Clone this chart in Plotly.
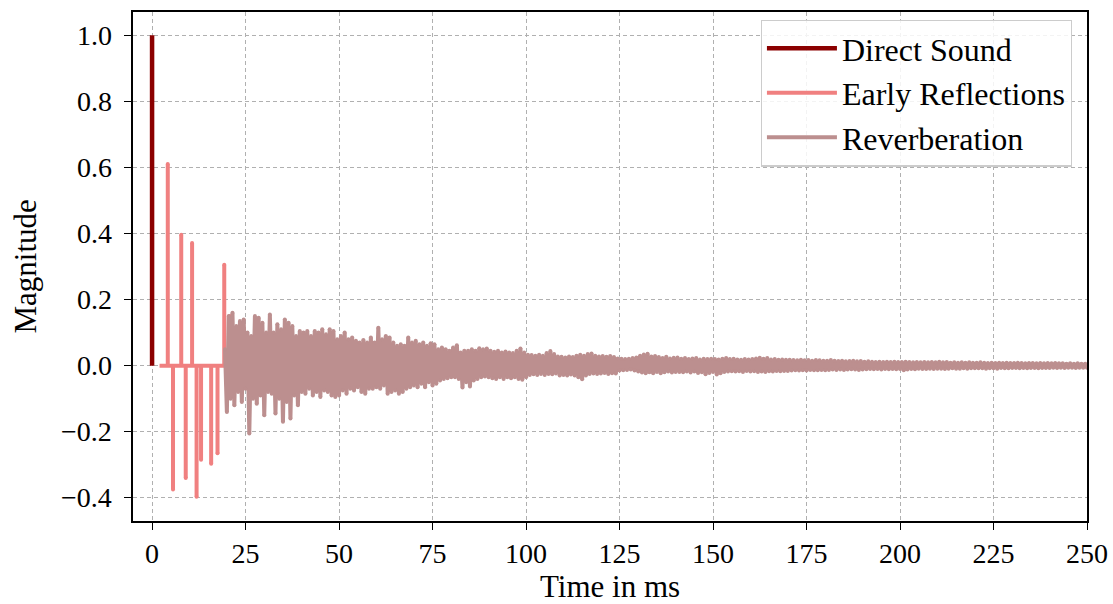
import numpy as np
import plotly.graph_objects as go

# ---------------- data ----------------
direct_time = [0.0]
direct_amp = [1.0]

reflection_start = 2.0      # ms, start of the early-reflection segment
reflection_end = 21.0       # ms, end of the early-reflection segment
reflection_times = [4.2, 5.6, 7.8, 9.0, 10.7, 11.9, 13.1, 15.8, 17.5, 19.3, 20.8]
reflection_amps = [0.61, -0.375, 0.396, -0.34, 0.371, -0.397, -0.285, -0.297, -0.265, 0.305, 0.15]

# reverberation, part A: 19.5 ms .. 130 ms every 0.5 ms
reverb_a_start, reverb_a_step = 19.5, 0.5
reverb_a_values = [
    0.05, -0.14, 0.15, -0.10, 0.16, -0.12, 0.12, -0.08, 0.135, -0.11,
    0.14, -0.07, 0.10, -0.205, 0.09, -0.10, 0.15, -0.115, 0.145, -0.09,
    0.13, -0.15, 0.10, -0.08, 0.155, -0.085, 0.10, -0.145, 0.125, -0.10,
    0.11, -0.17, 0.14, -0.11, 0.13, -0.16, 0.12, -0.09, 0.09, -0.12,
    0.105, -0.08, 0.10, -0.085, 0.105, -0.07, 0.09, -0.09, 0.105, -0.08,
    0.10, -0.095, 0.11, -0.075, 0.095, -0.08, 0.11, -0.09, 0.105, -0.095,
    0.08, -0.09, 0.09, -0.075, 0.10, -0.085, 0.08, -0.07, 0.085, -0.075,
    0.075, -0.065, 0.07, -0.08, 0.078, -0.085, 0.07, -0.07, 0.085, -0.07,
    0.07, -0.065, 0.115, -0.07, 0.08, -0.06, 0.09, -0.085, 0.085, -0.08,
    0.07, -0.075, 0.06, -0.085, 0.065, -0.08, 0.06, -0.07, 0.085, -0.065,
    0.07, -0.06, 0.075, -0.065, 0.065, -0.055, 0.07, -0.065, 0.06, -0.05,
    0.068, -0.06, 0.065, -0.055, 0.05, -0.045, 0.055, -0.04, 0.05, -0.038,
    0.045, -0.035, 0.055, -0.035, 0.062, -0.04, 0.04, -0.066, 0.045, -0.05,
    0.045, -0.063, 0.05, -0.045, 0.045, -0.04, 0.053, -0.035, 0.05, -0.033,
    0.052, -0.035, 0.045, -0.038, 0.042, -0.04, 0.045, -0.035, 0.04, -0.04,
    0.043, -0.035, 0.04, -0.038, 0.038, -0.035, 0.045, -0.04, 0.052, -0.043,
    0.04, -0.035, 0.033, -0.028, 0.032, -0.026, 0.03, -0.028, 0.033, -0.025,
    0.03, -0.028, 0.038, -0.025, 0.044, -0.026, 0.035, -0.024, 0.028, -0.03,
    0.027, -0.028, 0.025, -0.03, 0.028, -0.027, 0.026, -0.03, 0.03, -0.035,
    0.033, -0.041, 0.03, -0.03, 0.035, -0.025, 0.037, -0.024, 0.03, -0.025,
    0.028, -0.024, 0.029, -0.022, 0.027, -0.025, 0.029, -0.023, 0.026, -0.024,
    0.022, -0.015, 0.021, -0.014, 0.02, -0.013, 0.021, -0.012, 0.023, -0.015,
    0.025, -0.018,
]

# reverberation, part B: 130.5 ms .. 250 ms every 0.5 ms
reverb_b_start, reverb_b_step = 130.5, 0.5
reverb_b_values = [
    0.03, -0.021, 0.034, -0.023, 0.036, -0.02, 0.028, -0.023, 0.029, -0.019,
    0.026, -0.023, 0.023, -0.02, 0.027, -0.018, 0.022, -0.021, 0.024, -0.019,
    0.025, -0.019, 0.021, -0.02, 0.023, -0.018, 0.02, -0.021, 0.022, -0.018,
    0.023, -0.022, 0.019, -0.02, 0.021, -0.026, 0.02, -0.022, 0.021, -0.019,
    0.02, -0.027, 0.019, -0.023, 0.021, -0.019, 0.023, -0.018, 0.02, -0.017,
    0.021, -0.018, 0.019, -0.017, 0.018, -0.019, 0.02, -0.016, 0.019, -0.018,
    0.02, -0.017, 0.022, -0.019, 0.024, -0.018, 0.021, -0.019, 0.023, -0.017,
    0.019, -0.018, 0.02, -0.016, 0.018, -0.017, 0.019, -0.016, 0.018, -0.016,
    0.018, -0.015, 0.017, -0.014, 0.016, -0.015, 0.018, -0.014, 0.016, -0.015,
    0.017, -0.013, 0.015, -0.014, 0.017, -0.014, 0.016, -0.013, 0.015, -0.014,
    0.015, -0.013, 0.017, -0.012, 0.015, -0.013, 0.014, -0.012, 0.015, -0.013,
    0.013, -0.012, 0.014, -0.011, 0.015, -0.012, 0.013, -0.013, 0.014, -0.012,
    0.012, -0.011, 0.013, -0.01, 0.012, -0.011, 0.011, -0.01, 0.012, -0.012,
    0.011, -0.01, 0.012, -0.011, 0.011, -0.01, 0.012, -0.011, 0.011, -0.01,
    0.011, -0.014, 0.012, -0.012, 0.011, -0.01, 0.01, -0.011, 0.011, -0.009,
    0.01, -0.01, 0.011, -0.01, 0.01, -0.009, 0.011, -0.01, 0.01, -0.009,
    0.012, -0.009, 0.01, -0.01, 0.011, -0.009, 0.009, -0.008, 0.01, -0.009,
    0.009, -0.009, 0.01, -0.008, 0.009, -0.009, 0.01, -0.008, 0.009, -0.008,
    0.009, -0.008, 0.01, -0.008, 0.009, -0.009, 0.008, -0.008, 0.009, -0.008,
    0.008, -0.009, 0.009, -0.007, 0.008, -0.008, 0.009, -0.008, 0.008, -0.007,
    0.008, -0.007, 0.009, -0.008, 0.008, -0.007, 0.007, -0.008, 0.008, -0.007,
    0.008, -0.007, 0.007, -0.008, 0.008, -0.007, 0.007, -0.007, 0.008, -0.007,
    0.007, -0.006, 0.008, -0.007, 0.007, -0.006, 0.007, -0.007, 0.006, -0.006,
    0.007, -0.006, 0.006, -0.007, 0.007, -0.006, 0.006, -0.006, 0.006, -0.006,
]

x_ticks = [0, 25, 50, 75, 100, 125, 150, 175, 200, 225, 250]
y_ticks = [-0.4, -0.2, 0.0, 0.2, 0.4, 0.6, 0.8, 1.0]
y_tick_labels = ["\u22120.4", "\u22120.2", "0.0", "0.2", "0.4", "0.6", "0.8", "1.0"]

series_names = ["Direct Sound", "Early Reflections", "Reverberation"]
series_colors = ["#8B0000", "#F08080", "#BC8F8F"]

# ---------------- build traces ----------------
dx, dy = [], []
for t, a in zip(direct_time, direct_amp):
    dx += [t, t]
    dy += [0.0, a]

ex, ey = [reflection_start], [0.0]
for t, a in zip(reflection_times, reflection_amps):
    ex += [t, t, t]
    ey += [0.0, a, 0.0]
ex.append(reflection_end)
ey.append(0.0)

ta = reverb_a_start + reverb_a_step * np.arange(len(reverb_a_values))
tb = reverb_b_start + reverb_b_step * np.arange(len(reverb_b_values))
rx = np.concatenate([ta, tb])
ry = np.array(reverb_a_values + reverb_b_values)

FONT = "Liberation Serif"
LW = 4

fig = go.Figure()
fig.add_trace(go.Scatter(x=dx, y=dy, mode="lines", name=series_names[0],
                         line=dict(color=series_colors[0], width=4.5, simplify=False)))
fig.add_trace(go.Scatter(x=ex, y=ey, mode="lines", name=series_names[1],
                         line=dict(color=series_colors[1], width=LW, simplify=False)))
# round caps at the reflection tips
fig.add_trace(go.Scatter(x=reflection_times, y=reflection_amps, mode="markers",
                         showlegend=False, hoverinfo="skip",
                         marker=dict(color=series_colors[1], size=LW, line=dict(width=0))))
fig.add_trace(go.Scatter(x=rx, y=ry, mode="lines", name=series_names[2],
                         line=dict(color=series_colors[2], width=LW, simplify=False)))
# round joins at the reverberation peaks
fig.add_trace(go.Scatter(x=rx, y=ry, mode="markers", showlegend=False, hoverinfo="skip",
                         marker=dict(color=series_colors[2], size=LW, line=dict(width=0))))

axis_common = dict(
    showline=True, linecolor="black", linewidth=1.6, mirror=True,
    ticks="outside", ticklen=7, tickwidth=1.4, tickcolor="black",
    showgrid=True, gridcolor="#b0b0b0", gridwidth=1, griddash="4px,3px",
    zeroline=False, automargin=False,
    tickfont=dict(family=FONT, size=28, color="black"),
)

fig.update_xaxes(**axis_common, range=[-5.1, 250], tickvals=x_ticks,
                 ticktext=[str(v) for v in x_ticks], ticklabelstandoff=0,
                 title=dict(text="Time in ms", font=dict(family=FONT, size=31, color="black"),
                            standoff=14))
fig.update_yaxes(**axis_common, range=[-0.47, 1.07], tickvals=y_ticks,
                 showticklabels=False)

# y tick labels and y title as positioned text (gap of ~21 px from the axis, as in the reference)
for v, lab in zip(y_ticks, y_tick_labels):
    fig.add_annotation(x=0, xref="paper", y=v, yref="y", text=lab, showarrow=False,
                       xanchor="right", yanchor="middle", xshift=-19,
                       font=dict(family=FONT, size=28, color="black"))
fig.add_annotation(x=0, xref="paper", y=0.5, yref="paper", text="Magnitude",
                   showarrow=False, textangle=-90, xanchor="center", yanchor="middle",
                   xshift=-108, font=dict(family=FONT, size=31, color="black"))

fig.update_layout(
    width=1113, height=604,
    margin=dict(l=133, r=26, t=12, b=83),
    paper_bgcolor="white", plot_bgcolor="white",
    font=dict(family=FONT, size=28, color="black"),
    showlegend=True,
    legend=dict(x=0.984, y=0.985, xanchor="right", yanchor="top",
                bgcolor="rgba(255,255,255,0.85)", bordercolor="#cccccc", borderwidth=1.2,
                font=dict(family=FONT, size=32, color="black"),
                itemwidth=70, tracegroupgap=6),
)

fig.write_html("out.html")
